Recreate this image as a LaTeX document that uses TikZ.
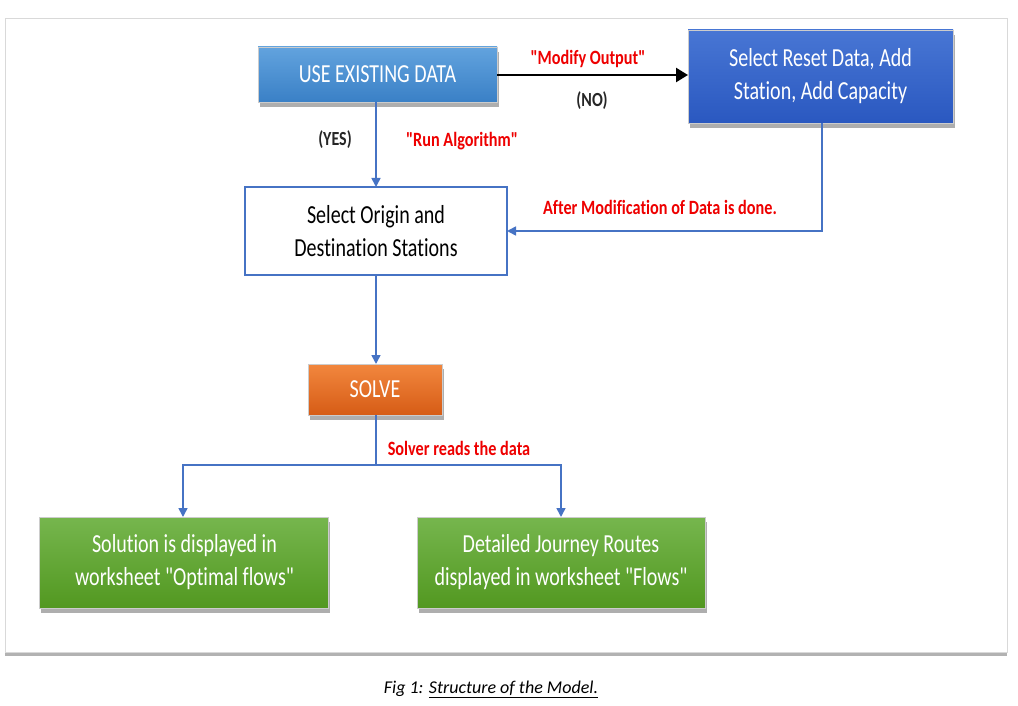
\documentclass[tikz,border=0pt]{standalone}
\usepackage{fontspec}
\setmainfont{Carlito}
\newfontfamily\cond{Carlito}[FakeStretch=0.8, Ligatures=NoCommon]
\newfontfamily\condbox{Carlito}[FakeStretch=0.77, Ligatures=NoCommon]
\usetikzlibrary{arrows.meta,shadows,positioning}
\definecolor{conblue}{RGB}{70,115,196}
\definecolor{redtxt}{RGB}{238,0,0}
\definecolor{useTop}{RGB}{98,163,222}
\definecolor{useBot}{RGB}{58,128,198}
\definecolor{resTop}{RGB}{72,118,212}
\definecolor{resBot}{RGB}{42,88,192}
\definecolor{solTop}{RGB}{242,135,62}
\definecolor{solBot}{RGB}{214,92,22}
\definecolor{grnTop}{RGB}{118,182,78}
\definecolor{grnBot}{RGB}{82,152,32}
\newcommand{\dq}{\symbol{34}}
\tikzset{
  boxshadow/.style={drop shadow={shadow xshift=2pt,shadow yshift=-5pt,opacity=0.45,fill=black!70}},
  boxtext/.style={font=\condbox\fontsize{26}{33}\selectfont, align=center},
  filledbox/.style={boxshadow, draw=black!20, line width=0.5pt},
  usebox/.style={filledbox, top color=useTop, bottom color=useBot},
  resbox/.style={filledbox, top color=resTop, bottom color=resBot},
  solbox/.style={filledbox, top color=solTop, bottom color=solBot},
  grnbox/.style={filledbox, top color=grnTop, bottom color=grnBot},
  whitebox/.style={draw=conblue, fill=white, line width=2pt},
  conn/.style={draw=conblue, line width=1.6pt, -{Triangle[width=9pt,length=9pt]}},
  plainconn/.style={draw=conblue, line width=1.6pt},
  redlab/.style={text=redtxt, font=\cond\fontsize{20.3}{23}\selectfont\bfseries},
  blklab/.style={text=black!85, font=\cond\fontsize{20}{23}\selectfont\bfseries},
}
\begin{document}
\begin{tikzpicture}[x=1pt,y=-1pt]
\useasboundingbox (0,0) rectangle (1018,706);
\fill[white] (0,0) rectangle (1018,706);
% frame
\path[draw=black!15, fill=white, line width=0.8pt, drop shadow={shadow xshift=0pt,shadow yshift=-4pt,opacity=0.5,fill=black!60}] (5,18) rectangle (1007,652);
% nodes
\path[usebox] (258,47) rectangle (497,102);
\node[boxtext, text=white] (use) at (377.5,74.5) {USE EXISTING DATA};
\coordinate (useE) at (497,75);
\coordinate (useS) at (376,102);

\path[resbox] (688,30) rectangle (953,123);
\node[boxtext, text=white] (res) at (820.5,76.5) {Select Reset Data, Add\\Station, Add Capacity};
\coordinate (resW) at (688,75);
\coordinate (resS) at (822,123);

\path[whitebox] (245,187) rectangle (507,275);
\node[boxtext] (orig) at (376,231) {Select Origin and\\Destination Stations};
\coordinate (origN) at (376,187);
\coordinate (origE) at (507,231);
\coordinate (origS) at (376,275);

\path[solbox] (308,364) rectangle (442,415);
\node[boxtext, text=white] (solve) at (375,389.5) {SOLVE};
\coordinate (solN) at (376,364);
\coordinate (solS) at (376,415);

\path[grnbox] (39,517) rectangle (328,608);
\node[boxtext, text=white] (sol1) at (184.5,562.5) {Solution is displayed in\\worksheet \dq Optimal flows\dq};
\coordinate (sol1N) at (183,517);

\path[grnbox] (417,517) rectangle (705,608);
\node[boxtext, text=white] (sol2) at (561,562.5) {Detailed Journey Routes\\displayed in worksheet \dq Flows\dq};
\coordinate (sol2N) at (561,517);

% connectors
\draw[line width=2.4pt, -{Triangle[width=14pt,length=12pt]}] (useE) -- (resW);
\draw[conn] (useS) -- (origN);
\coordinate (resCorner) at (822,231);
\draw[conn] (resS) -- (resCorner) -- (origE);
\draw[conn] (origS) -- (solN);
\coordinate (split) at (376,465);
\coordinate (lc) at (183,465);
\coordinate (rc) at (561,465);
\draw[plainconn] (solS) -- (split);
\draw[conn] (split) -- (lc) -- (sol1N);
\draw[conn] (split) -- (rc) -- (sol2N);

% labels
\node[redlab] (lmod) at (588,59) {\dq Modify Output\dq};
\node[blklab] (lno) at (592,101) {(NO)};
\node[blklab] (lyes) at (335,140) {(YES)};
\node[redlab] (lrun) at (462,141) {\dq Run Algorithm\dq};
\node[redlab] (lafter) at (660,207) {After Modification of Data is done.};
\node[redlab] (lsolver) at (459,448) {Solver reads the data};

% caption
\node[font=\fontsize{18}{20}\selectfont\itshape, text=black] (cap) at (491,689) {Fig 1: \underline{Structure of the Model.}};
\end{tikzpicture}
\end{document}
